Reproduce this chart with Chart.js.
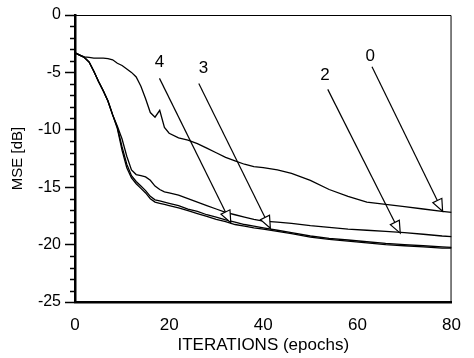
<!DOCTYPE html>
<html>
<head>
<meta charset="utf-8">
<script src="https://cdn.jsdelivr.net/npm/chart.js@4.4.1/dist/chart.umd.min.js"></script>
<style>
  html, body { margin: 0; padding: 0; background: #fff; }
  canvas { display: block; }
</style>
</head>
<body>
<canvas id="mseChart" width="474" height="358"></canvas>
<script>
// epochs sampled along the x axis
const epochs = [0, 1, 2, 3, 4, 5, 6, 7, 8, 9, 10, 11, 12, 13, 14, 15, 16, 17, 18, 19, 20,
                22, 24, 26, 28, 30, 32, 34, 36, 38, 40, 43, 46, 50, 54, 58, 62, 66, 70, 74, 78, 80];

// MSE [dB] per curve
const mse0 = [-3.3, -3.5, -3.65, -3.7, -3.75, -3.75, -3.75, -3.8, -3.9, -4.2, -4.4, -4.7, -5.0, -5.4, -6.2, -7.3, -8.5, -8.9, -8.3, -9.8, -10.3,
              -10.7, -10.9, -11.2, -11.6, -12.0, -12.4, -12.7, -13.0, -13.2, -13.3, -13.5, -13.8, -14.4, -15.2, -15.8, -16.3, -16.5, -16.7, -16.9, -17.1, -17.2];
const mse2 = [-3.3, -3.5, -3.7, -4.1, -4.9, -5.8, -6.6, -7.5, -8.7, -9.7, -10.8, -12.3, -13.5, -13.9, -14.0, -14.1, -14.4, -14.9, -15.2, -15.4, -15.5,
              -15.7, -16.0, -16.3, -16.6, -16.9, -17.2, -17.4, -17.6, -17.8, -17.95, -18.05, -18.15, -18.35, -18.5, -18.65, -18.75, -18.85, -18.95, -19.1, -19.25, -19.3];
const mse3 = [-3.3, -3.5, -3.7, -4.1, -4.9, -5.8, -6.6, -7.5, -8.7, -9.8, -11.5, -13.0, -14.0, -14.5, -14.9, -15.3, -15.8, -16.1, -16.2, -16.3, -16.4,
              -16.6, -16.9, -17.1, -17.4, -17.6, -17.85, -18.05, -18.25, -18.4, -18.55, -18.75, -18.95, -19.25, -19.45, -19.6, -19.75, -19.9, -20.0, -20.1, -20.2, -20.25];
const mse4 = [-3.3, -3.5, -3.7, -4.1, -4.9, -5.8, -6.6, -7.5, -8.7, -9.9, -11.8, -13.3, -14.2, -14.7, -15.1, -15.5, -16.0, -16.3, -16.4, -16.5, -16.6,
              -16.8, -17.05, -17.3, -17.55, -17.8, -18.0, -18.25, -18.4, -18.55, -18.65, -18.85, -19.05, -19.35, -19.55, -19.7, -19.85, -20.0, -20.1, -20.2, -20.3, -20.3];

// tick labels
const xTicks = [0, 20, 40, 60, 80];
const yTicks = [0, -5, -10, -15, -20, -25];

// arrow annotations, in data units (epoch, dB)
const arrowLabels = ['0', '2', '3', '4'];
const arrowTextAt = [[62.7, -3.56], [53.1, -5.27], [27.3, -4.65], [17.95, -4.14]];
const arrowFrom   = [[63.1, -4.5], [53.7, -6.48], [26.3, -5.96], [17.95, -5.52]];
const arrowTo     = [[78.1, -17.1], [69.1, -19.0], [41.5, -18.57], [33.1, -18.1]];

const FONT = '"Liberation Sans", Arial, Helvetica, sans-serif';
Chart.defaults.font.family = FONT;
Chart.defaults.color = '#000';

function toPoints(values) {
    return values.map((v, i) => ({ x: epochs[i], y: v }));
}

// small ticks between the labelled ones on the y axis
const minorTicks = {
    id: 'minorTicks',
    afterDraw(chart) {
        const { ctx, chartArea, scales: { y } } = chart;
        ctx.save();
        ctx.strokeStyle = '#000';
        ctx.lineWidth = 1.5;
        for (let v = -24; v < 0; v++) {
            if (v % 5 === 0) continue;
            const py = Math.round(y.getPixelForValue(v)) + 0.5;
            ctx.beginPath();
            ctx.moveTo(chartArea.left - 5, py);
            ctx.lineTo(chartArea.left, py);
            ctx.stroke();
        }
        ctx.restore();
    }
};

// thin top and right frame lines
const frame = {
    id: 'frame',
    afterDraw(chart) {
        const { ctx, chartArea } = chart;
        ctx.save();
        ctx.strokeStyle = '#000';
        ctx.lineWidth = 1;
        ctx.beginPath();
        ctx.moveTo(chartArea.left, chartArea.top + 0.5);
        ctx.lineTo(chartArea.right - 0.5, chartArea.top + 0.5);
        ctx.lineTo(chartArea.right - 0.5, chartArea.bottom);
        ctx.stroke();
        ctx.restore();
    }
};

// numbered arrows with hollow heads
const arrows = {
    id: 'arrows',
    afterDatasetsDraw(chart) {
        const { ctx, scales: { x, y } } = chart;
        ctx.save();
        ctx.strokeStyle = '#000';
        ctx.lineWidth = 1.2;
        arrowLabels.forEach((label, i) => {
            const x0 = x.getPixelForValue(arrowFrom[i][0]);
            const y0 = y.getPixelForValue(arrowFrom[i][1]);
            const x1 = x.getPixelForValue(arrowTo[i][0]);
            const y1 = y.getPixelForValue(arrowTo[i][1]);
            const len = Math.hypot(x1 - x0, y1 - y0);
            const dx = (x1 - x0) / len, dy = (y1 - y0) / len;
            const bx = x1 - 12 * dx, by = y1 - 12 * dy;

            ctx.beginPath();
            ctx.moveTo(x0, y0);
            ctx.lineTo(bx, by);
            ctx.stroke();

            ctx.beginPath();
            ctx.moveTo(x1, y1);
            ctx.lineTo(bx - 5 * dy, by + 5 * dx);
            ctx.lineTo(bx + 5 * dy, by - 5 * dx);
            ctx.closePath();
            ctx.fillStyle = '#fff';
            ctx.fill();
            ctx.stroke();

            ctx.fillStyle = '#000';
            ctx.font = '17px ' + FONT;
            ctx.textAlign = 'center';
            ctx.textBaseline = 'middle';
            ctx.fillText(label, x.getPixelForValue(arrowTextAt[i][0]), y.getPixelForValue(arrowTextAt[i][1]));
        });
        ctx.restore();
    }
};

const curve = (label, values) => ({
    label: label,
    data: toPoints(values),
    borderColor: '#000',
    borderWidth: 1.3,
    pointRadius: 0,
    fill: false,
    tension: 0
});

new Chart(document.getElementById('mseChart').getContext('2d'), {
    type: 'line',
    data: {
        datasets: [
            curve('0', mse0),
            curve('2', mse2),
            curve('3', mse3),
            curve('4', mse4)
        ]
    },
    options: {
        responsive: false,
        animation: false,
        layout: { padding: { left: 0, right: 10, top: 15, bottom: 0 } },
        plugins: {
            legend: { display: false },
            tooltip: { enabled: false }
        },
        scales: {
            x: {
                type: 'linear',
                min: 0,
                max: 80,
                afterBuildTicks: scale => { scale.ticks = xTicks.map(v => ({ value: v })); },
                ticks: { padding: 13, font: { size: 17 }, maxRotation: 0 },
                grid: { display: true, drawOnChartArea: false, drawTicks: false },
                border: { display: true, color: '#000', width: 2.5 },
                title: {
                    display: true,
                    text: 'ITERATIONS (epochs)',
                    font: { size: 17 },
                    padding: { top: 0, bottom: 2 }
                },
                afterFit: scale => { scale.height = 56; }
            },
            y: {
                type: 'linear',
                min: -25,
                max: 0,
                afterBuildTicks: scale => { scale.ticks = yTicks.map(v => ({ value: v })); },
                ticks: { padding: 4, font: { size: 16 } },
                grid: { drawOnChartArea: false, tickLength: 10, color: '#000', tickWidth: 1.5 },
                border: { display: true, color: '#000', width: 2.5 },
                title: {
                    display: true,
                    text: 'MSE [dB]',
                    font: { size: 15 },
                    padding: { top: 9, bottom: 0 }
                },
                afterFit: scale => { scale.width = 75; }
            }
        }
    },
    plugins: [minorTicks, frame, arrows]
});
</script>
</body>
</html>
